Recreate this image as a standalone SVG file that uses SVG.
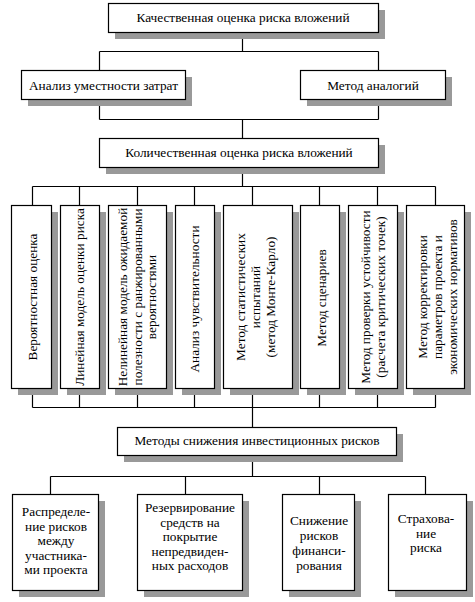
<svg xmlns="http://www.w3.org/2000/svg" width="475" height="602" viewBox="0 0 475 602">
<defs>
<style>
.sh{fill:#999999;}
.bx{fill:#ffffff;stroke:#000000;stroke-width:1.2;}
.ln{fill:none;stroke:#000000;stroke-width:1.2;}
.t{font-size:13.3px;fill:#000000;text-anchor:middle;}
</style>
</defs>
<rect width="475" height="602" fill="#ffffff"/>
<g id="connectors">
<path class="ln" d="M242.5,32V51.5M99.5,51.5H378.5M99.5,51.5V70M378.5,51.5V70"/>
<path class="ln" d="M99.5,99V119.5M378.5,99V119.5M99.5,119.5H378.5M242.5,119.5V138"/>
<path class="ln" d="M242.5,167V186.5M32.5,186.5H435.5M32.5,186.5V205M79.5,186.5V205M137.5,186.5V205M194.5,186.5V205M252.5,186.5V205M319.5,186.5V205M377.5,186.5V205M435.5,186.5V205"/>
<path class="ln" d="M32.5,388V407.5M79.5,388V407.5M137.5,388V407.5M194.5,388V407.5M252.5,388V407.5M319.5,388V407.5M377.5,388V407.5M435.5,388V407.5M32.5,407.5H435.5M252.5,407.5V427"/>
<path class="ln" d="M252.5,455V476.5M50.5,476.5H425.5M50.5,476.5V494M185.5,476.5V494M319.5,476.5V494M425.5,476.5V494"/>
</g>
<g font-family="'Liberation Serif', 'Times New Roman', serif">
<g id="n-qual">
<rect class="sh" x="115" y="10" width="270" height="29"/>
<rect class="bx" x="108.5" y="3.5" width="270" height="29"/>
<text class="t" x="243" y="22">Качественная оценка риска вложений</text>
</g>
<g id="n-cost">
<rect class="sh" x="28" y="77" width="164" height="29"/>
<rect class="bx" x="21.5" y="70.5" width="164" height="29"/>
<text class="t" x="103.5" y="90">Анализ уместности затрат</text>
</g>
<g id="n-analog">
<rect class="sh" x="307" y="77" width="145" height="29"/>
<rect class="bx" x="300.5" y="70.5" width="145" height="29"/>
<text class="t" x="373" y="90">Метод аналогий</text>
</g>
<g id="n-quant">
<rect class="sh" x="106" y="145" width="279" height="29"/>
<rect class="bx" x="99.5" y="138.5" width="279" height="29"/>
<text class="t" x="239" y="157">Количественная оценка риска вложений</text>
</g>
<g id="v1">
<rect class="sh" x="18" y="212" width="40" height="183"/>
<rect class="bx" x="11.5" y="205.5" width="40" height="183"/>
<text class="t" transform="translate(31.5,297) rotate(-90)" y="5.5">Вероятностная оценка</text>
</g>
<g id="v2">
<rect class="sh" x="67" y="212" width="39" height="183"/>
<rect class="bx" x="60.5" y="205.5" width="39" height="183"/>
<text class="t" transform="translate(80,297) rotate(-90)" y="4">Линейная модель оценки риска</text>
</g>
<g id="v3">
<rect class="sh" x="115" y="212" width="58" height="183"/>
<rect class="bx" x="108.5" y="205.5" width="58" height="183"/>
<text class="t" transform="translate(137.5,297) rotate(-90)"><tspan x="0" y="-10.5">Нелинейная модель ожидаемой</tspan><tspan x="0" y="4.5">полезности с ранжированными</tspan><tspan x="0" y="18.5">вероятностями</tspan></text>
</g>
<g id="v4">
<rect class="sh" x="182" y="212" width="39" height="183"/>
<rect class="bx" x="175.5" y="205.5" width="39" height="183"/>
<text class="t" transform="translate(195,299) rotate(-90)" y="4">Анализ чувствительности</text>
</g>
<g id="v5">
<rect class="sh" x="230" y="212" width="69" height="183"/>
<rect class="bx" x="223.5" y="205.5" width="69" height="183"/>
<text class="t" transform="translate(258,297) rotate(-90)"><tspan x="0" y="-13.5">Метод статистических</tspan><tspan x="0" y="1.5">испытаний</tspan><tspan x="0" y="16.5">(метод Монте-Карло)</tspan></text>
</g>
<g id="v6">
<rect class="sh" x="307" y="212" width="39" height="183"/>
<rect class="bx" x="300.5" y="205.5" width="39" height="183"/>
<text class="t" transform="translate(320,298) rotate(-90)" y="6">Метод сценариев</text>
</g>
<g id="v7">
<rect class="sh" x="355" y="212" width="49" height="183"/>
<rect class="bx" x="348.5" y="205.5" width="49" height="183"/>
<text class="t" transform="translate(373,297) rotate(-90)"><tspan x="0" y="-3.5">Метод проверки устойчивости</tspan><tspan x="0" y="11.5">(расчета критических  точек)</tspan></text>
</g>
<g id="v8">
<rect class="sh" x="413" y="212" width="58" height="183"/>
<rect class="bx" x="406.5" y="205.5" width="58" height="183"/>
<text class="t" transform="translate(435.5,297) rotate(-90)"><tspan x="0" y="-9">Метод корректировки</tspan><tspan x="0" y="6">параметров проекта и</tspan><tspan x="0" y="21">экономических нормативов</tspan></text>
</g>
<g id="n-reduce">
<rect class="sh" x="124" y="434" width="279" height="28"/>
<rect class="bx" x="117.5" y="427.5" width="279" height="28"/>
<text class="t" x="257" y="445">Методы снижения инвестиционных рисков</text>
</g>
<g id="b1">
<rect class="sh" x="19" y="501" width="86" height="96"/>
<rect class="bx" x="12.5" y="494.5" width="86" height="96"/>
<text class="t"><tspan x="56" y="516">Распределе-</tspan><tspan x="56" y="530.5">ние рисков</tspan><tspan x="56" y="545">между</tspan><tspan x="56" y="559.5">участника-</tspan><tspan x="56" y="574">ми проекта</tspan></text>
</g>
<g id="b2">
<rect class="sh" x="144" y="501" width="105" height="96"/>
<rect class="bx" x="137.5" y="494.5" width="105" height="96"/>
<text class="t"><tspan x="190" y="512">Резервирование</tspan><tspan x="190" y="526.5">средств на</tspan><tspan x="190" y="541">покрытие</tspan><tspan x="190" y="555.5">непредвиден-</tspan><tspan x="190" y="570">ных расходов</tspan></text>
</g>
<g id="b3">
<rect class="sh" x="289" y="501" width="72" height="96"/>
<rect class="bx" x="282.5" y="494.5" width="72" height="96"/>
<text class="t"><tspan x="319" y="525">Снижение</tspan><tspan x="319" y="540">рисков</tspan><tspan x="319" y="555">финанси-</tspan><tspan x="319" y="570">рования</tspan></text>
</g>
<g id="b4">
<rect class="sh" x="395" y="501" width="78" height="96"/>
<rect class="bx" x="388.5" y="494.5" width="78" height="96"/>
<text class="t"><tspan x="426" y="523">Страхова-</tspan><tspan x="426" y="537.5">ние</tspan><tspan x="426" y="552">риска</tspan></text>
</g>
</g>
</svg>
